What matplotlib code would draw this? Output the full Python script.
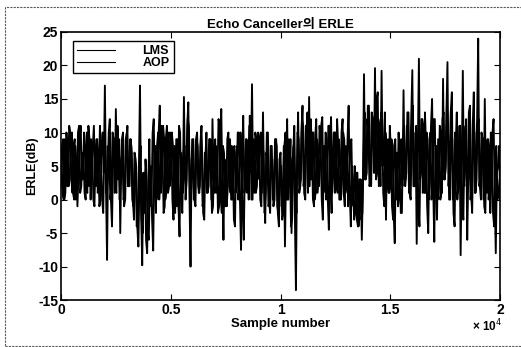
import numpy as np
import matplotlib.pyplot as plt
from matplotlib.patches import Rectangle

plt.rcParams['font.family'] = ['Liberation Sans', 'Noto Sans CJK KR', 'DejaVu Sans']
plt.rcParams['axes.unicode_minus'] = False

# ERLE values, one point every 50 samples
lms = [2, 8, 9, 0, 1, 10, 7, 2, 3, 9, 10, 1, 0, 8, 6, -1, 4, 9, 11, 3,
       3, 10, 8, 2, 1, 11, 9, 0, 5, 8, 11, 3, 2, 9, 7, -1, 0, 8, 10, 4,
       17, 2, -9, 8, 6, 0, 2, 10, 9, 1, 13.5, 4, 3, 9, -5, 6, 7, 0, 1, 9,
       10, 2, 4, 9, 8, 0, -1, 7, 6, -4, -3, 5, 17, -2, -9.8, 4, -2, 6, 3, -5,
       -6, 3, 5, -3, -7.6, 6, 8, 0, 2, 10, 14, 1, 4, 11, 9, 0, 1, 8, 10, 2,
       3, 10, 8, 0, -2, 9, 9, -1, -5.5, 7, 6, 1, 15.3, 3, 2, 11, 14.5, 1, -10, 6,
       7, 0, 3, 9, 10, 2, 1, 8, 11, -1, 0, 7, 6, 1, 4, 9, 9, 0, 12, 3,
       1, 8, 7, -2, -1, 9, 13.5, 2, -6, 6, 5, -1, 2, 9, 9, 0, 0, 7, 8, 1,
       3, 10, 10, 0, -7.5, 6, 12.5, 1, 2, 9, 8, 0, 12.5, 4, 17.2, 2, 1, 10, 9, 3,
       4, 9, 10, 1, 13, 2, -3.5, 7, 6, -1, 0, 8, 8, 0, 2, 9, 9, -1, -2, 6,
       7, -1, 1, 8, -7, 4, 12, 0, 3, 9, -5, 6, 8, -2, -13.5, 5, 13, 1, 2, 10,
       14, 2, 4, 11, 9, 1, 15.3, 3, 3, 10, 10, 0, 1, 9, 8, 2, 5, 11, 12.3, 1,
       2, 10, 9, 0, -4.5, 8, 12.3, 1, 4, 10, 10, 2, 1, 9, 7, 0, 3, 10, 9, 1,
       2, 9, 14, 1, -4, 5, 3, -3, -2, 4, 4, -4, 0, 3, -6, 2, 18.7, 3, 5, 12,
       10, 2, 3, 13, 12, 4, 19.6, 3, 4, 12, 11, 2, 19.2, 5, 6, 13, -3, 8, 9, 1,
       2, 9, 8, -2, -6.5, 6, 7, -1, 0, 8, 9, 2, 16.3, 3, 3, 11, 10, 1, 5, 12,
       19.3, 2, 2, 10, -6.6, 7, 21, 3, 4, 12, 11, 1, 1, 10, 9, 0, 3, 11, 15, 2,
       -6.3, 7, 8, 0, 2, 11, 10, 1, 18, 3, 4, 12, 20.5, 2, 6, 13, 16, 0, 1, 10,
       9, 0, 3, 11, -8.3, 5, 19.2, 2, 5, 12, -6, 4, 10, 0, 2, 11, 16, 1, 6, 12,
       24, 2, 3, 10, 9, 0, 15, 2, 1, 9, 8, -2, 3, 10, 12, 1, -8, 4, 5, 8,
       0]

aop = [6, 1, 0, 9, 8, 2, 2, 11, 10, 3, 1, 8, 9, 0, 3, 10, 11, 1, 2, 7,
       7, 1, 0, 10, 10, 2, 4, 9, 8, 0, -1, 7, 9, 1, 3, 11, 6, 0, -2, 8,
       8, 1, 3, 10, 12, 0, -4, 7, 9, 2, 1, 11, 7, 0, 4, 9, 10, -1, 0, 8,
       11, 2, 2, 9, 7, 0, -3, 6, 5, -4, -7, 3, 8, -3, -5, 4, 4, -6, -8, 2,
       9, -1, 0, 10, 12, 1, -2, 8, 10, 0, 3, 11, 7, -2, -1, 9, 11, 1, 2, 10,
       9, 0, -3, 8, 7, -1, 0, 11, 10, 1, -2, 7, 8, 0, 3, 12, 11, 2, 1, 9,
       9, 0, -1, 9, 8, 1, 2, 10, 7, -2, -3, 6, 10, 1, 2, 9, 6, -2, -1, 8,
       9, 1, 3, 12, 11, 0, -2, 8, 7, -1, 0, 9, 10, 2, 1, 8, 6, -3, -4, 7,
       8, 0, 2, 10, 6, -2, -6, 5, 9, 1, 3, 11, 11, 0, 0, 9, 7, 1, 2, 10,
       9, 0, -1, 8, 7, -2, 1, 10, 10, 0, -2, 6, 6, -1, 0, 9, 8, -2, -4, 5,
       5, -3, -2, 8, 10, 0, 0, 9, 6, -4, -3, 7, 11, 1, -2, 10, 9, 2, 3, 12,
       11, 1, 0, 10, 13, 2, 2, 12, 8, 0, -1, 9, 12, 1, 3, 11, 9, 0, -3, 8,
       8, 0, 1, 11, 11, 2, -2, 7, 10, 1, 3, 12, 8, 0, 0, 10, 12, 1, -1, 8,
       7, -1, 3, 8, 9, 0, -1, 5, 2, -3, -4, 3, 3, -3, -2, 6, 13, 3, 4, 14,
       14, 3, 2, 12, 10, 4, 5, 15, 16, 2, 3, 13, 12, 1, -1, 10, 8, 2, 1, 11,
       7, -1, -3, 8, 9, 0, 1, 10, 6, -2, -2, 9, 11, 2, 4, 13, 13, 1, 0, 10,
       14, 2, 3, 11, 9, -1, -4, 8, 12, 1, 2, 13, 8, -1, -5, 7, 10, 0, 3, 12,
       12, 1, -3, 9, 9, 0, 1, 12, 13, 3, 5, 14, 11, 0, 0, 10, 9, -2, -4, 8,
       13, 1, 2, 11, 8, -1, -3, 9, 11, 2, 4, 13, 14, 1, -2, 9, 10, 1, 3, 11,
       12, 2, 0, 9, 7, -1, -2, 8, 9, 0, 2, 10, 6, -2, -4, 5, 8, 0, 1, 3]

x_lms = np.arange(len(lms)) * 50
x_aop = np.arange(len(aop)) * 50 + 25

xticks = [0, 5000, 10000, 15000, 20000]
xticklabels = ['0', '0.5', '1', '1.5', '2']
yticks = [-15, -10, -5, 0, 5, 10, 15, 20, 25]

fig = plt.figure(figsize=(5.21, 3.47), dpi=100)
ax = fig.add_axes([0.117, 0.135, 0.843, 0.773])

ax.plot(x_lms, lms, color='black', lw=1.35, label='LMS')
ax.plot(x_aop, aop, color='black', lw=1.35, label='AOP')

ax.set_xlim(0, 20000)
ax.set_ylim(-15, 25)
ax.set_xticks(xticks)
ax.set_xticklabels(xticklabels)
ax.set_yticks(yticks)
ax.tick_params(direction='in', length=4, top=True, right=True, labelsize=10, pad=2)
for lab in ax.get_xticklabels() + ax.get_yticklabels():
    lab.set_fontweight('bold')
for sp in ax.spines.values():
    sp.set_linewidth(1.2)

ax.set_title('Echo Canceller의 ERLE', fontsize=9.5, fontweight='bold', pad=3)
ax.set_xlabel('Sample number', fontsize=9.5, fontweight='bold', labelpad=1)
ax.set_ylabel('ERLE(dB)', fontsize=9, fontweight='bold', labelpad=0)
fig.text(0.905, 0.045, '× 10$^4$', fontsize=8.5, fontweight='bold')

leg = ax.legend(loc='upper left', bbox_to_anchor=(0.027, 0.968), fontsize=9,
                handlelength=3.0, handletextpad=2.2, labelspacing=0.0,
                borderpad=0.35, borderaxespad=0, fancybox=False, framealpha=1,
                edgecolor='black')
leg.get_frame().set_linewidth(1.0)
for line in leg.get_lines():
    line.set_linewidth(0.8)
for t in leg.get_texts():
    t.set_fontweight('bold')

# scan frame around the figure
fig.patches.append(Rectangle((0.01, 0.003), 1.2, 0.977, transform=fig.transFigure,
                             fill=False, ec='0.35', lw=0.8, ls=(0, (2, 1))))

fig.savefig('out.png', dpi=100)
